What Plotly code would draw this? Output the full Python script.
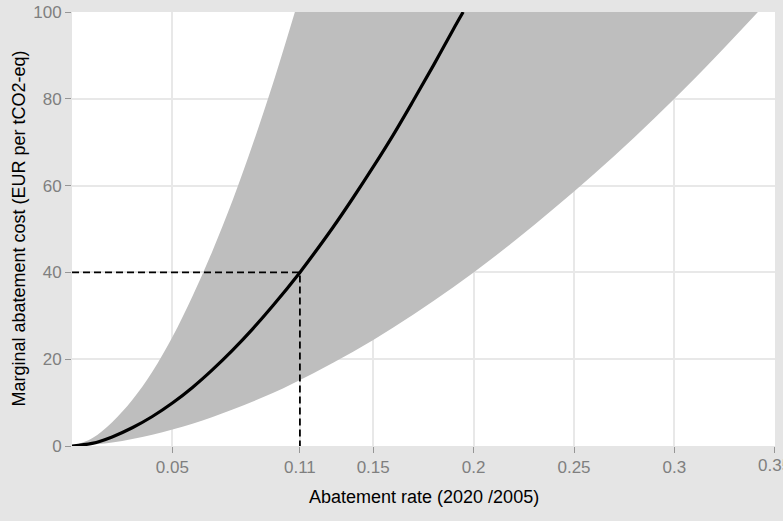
import plotly.graph_objects as go

# Abatement rate (2020 / 2005) and marginal abatement cost (EUR per tCO2-eq)
central_rate = [0, 0.01, 0.02, 0.03, 0.04, 0.05, 0.06, 0.07, 0.08, 0.09, 0.10,
                0.1135, 0.12, 0.13, 0.14, 0.15, 0.16, 0.17, 0.18, 0.19, 0.1948]
central_cost = [0, 0.6, 2.1, 4.2, 6.8, 9.9, 13.5, 17.6, 22.1, 27.0, 32.3,
                40, 44.0, 50.4, 57.2, 64.3, 71.7, 79.6, 87.7, 96.1, 100]

# Upper edge of the uncertainty band (steepest cost curve)
upper_rate = [0, 0.01, 0.02, 0.03, 0.04, 0.05, 0.06, 0.07, 0.08, 0.09, 0.10, 0.111]
upper_cost = [0, 1.8, 5.5, 10.6, 17.1, 25.1, 34.5, 45.0, 56.6, 69.5, 83.4, 100]

# Lower edge of the uncertainty band (flattest cost curve)
lower_rate = [0, 0.02, 0.04, 0.06, 0.08, 0.10, 0.12, 0.14, 0.16, 0.18, 0.20,
              0.22, 0.24, 0.26, 0.28, 0.30, 0.32, 0.3416]
lower_cost = [0, 0.8, 2.6, 5.1, 8.4, 12.2, 16.7, 21.7, 27.3, 33.4, 40,
              47.1, 54.7, 62.7, 71.1, 80.0, 89.4, 100]

# Reference carbon price and the matching abatement rate
target_cost = 40
target_rate = 0.1135

x_ticks = [0.05, target_rate, 0.15, 0.2, 0.25, 0.3, 0.35]
x_tick_text = ["0.05", f"{target_rate:.2f}", "0.15", "0.2", "0.25", "0.3", "0.35"]
y_ticks = [0, 20, 40, 60, 80, 100]

FONT = "Liberation Sans, Arial, Helvetica, sans-serif"
BAND = "rgb(190,190,190)"
GRID = "rgb(232,232,232)"
OUTER = "rgb(229,229,229)"
TICK_FONT = dict(family=FONT, size=17, color="rgb(127,127,127)")

fig = go.Figure()

fig.add_trace(go.Scatter(
    x=lower_rate, y=lower_cost, mode="lines",
    line=dict(width=0, shape="spline", color=BAND),
    hoverinfo="skip", showlegend=False,
))
fig.add_trace(go.Scatter(
    x=upper_rate, y=upper_cost, mode="lines",
    line=dict(width=0, shape="spline", color=BAND),
    fill="tonexty", fillcolor=BAND,
    hoverinfo="skip", showlegend=False,
))
fig.add_trace(go.Scatter(
    x=central_rate, y=central_cost, mode="lines",
    line=dict(width=3.2, shape="spline", color="black"),
    showlegend=False,
))
fig.add_trace(go.Scatter(
    x=[0, target_rate, target_rate], y=[target_cost, target_cost, 0],
    mode="lines",
    line=dict(width=1.8, color="black", dash="7px,4px"),
    showlegend=False,
))

axis_common = dict(
    showgrid=True, gridcolor=GRID, gridwidth=1.6,
    zeroline=False, showline=False,
    ticks="outside", ticklen=6, tickwidth=1.4, tickcolor="rgb(150,150,150)",
    tickfont=TICK_FONT,
    automargin=False,
)

# The last x tick label runs past the right edge of the figure; plotly would
# drop it, so it is drawn as an annotation and left to be cut by the border.
edge_idx = len(x_ticks) - 1
axis_tick_text = x_tick_text[:edge_idx] + [""]

fig.update_layout(
    width=783, height=521,
    margin=dict(l=72, r=8, t=12, b=75),
    paper_bgcolor=OUTER, plot_bgcolor="white",
    font=dict(family=FONT),
    xaxis=dict(range=[0, 0.3501], tickmode="array", tickvals=x_ticks,
               ticktext=axis_tick_text, **axis_common),
    yaxis=dict(range=[0, 100], tickmode="array", tickvals=y_ticks,
               **axis_common),
    annotations=[
        dict(text=x_tick_text[edge_idx], xref="x", yref="paper",
             x=x_ticks[edge_idx], y=-0.046, xanchor="center", yanchor="middle",
             showarrow=False, font=TICK_FONT),
        dict(text="Abatement rate (2020 /2005)", xref="paper", yref="paper",
             x=0.5, y=-0.118, xanchor="center", yanchor="middle",
             showarrow=False, font=dict(family=FONT, size=18, color="black")),
        dict(text="Marginal abatement cost (EUR per tCO2-eq)", xref="paper",
             yref="paper", x=-0.076, y=0.5, xanchor="center", yanchor="middle",
             textangle=-90, showarrow=False,
             font=dict(family=FONT, size=18, color="black")),
    ],
)

fig.write_html("out.html")
